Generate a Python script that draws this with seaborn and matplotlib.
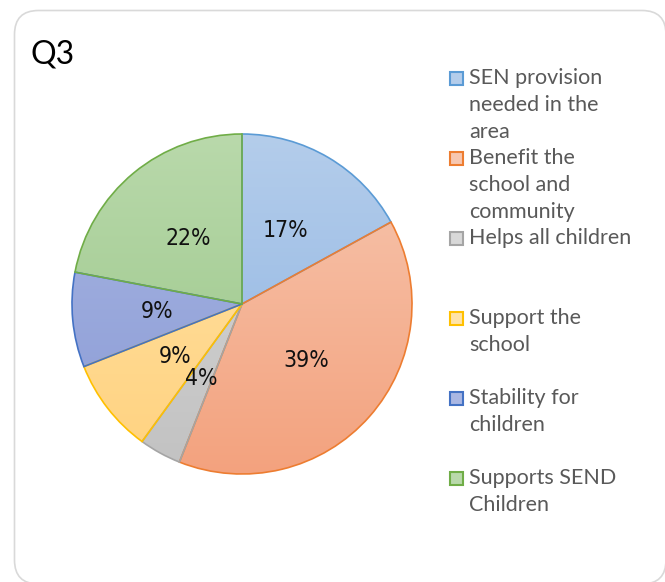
import numpy as np
import matplotlib
matplotlib.use("Agg")
import matplotlib.pyplot as plt
from matplotlib.colors import LinearSegmentedColormap
from matplotlib.patches import FancyBboxPatch, Rectangle
from matplotlib.transforms import IdentityTransform
import seaborn as sns

# ---- data ----
categories = ["SEN provision\nneeded in the\narea",
              "Benefit the\nschool and\ncommunity",
              "Helps all children",
              "Support the\nschool",
              "Stability for\nchildren",
              "Supports SEND\nChildren"]
values = [17, 39, 4, 9, 9, 22]
edge_colors = ["#5B9BD5", "#ED7D31", "#A5A5A5", "#FFC000", "#4472C4", "#70AD47"]
fill_top = ["#B4CDEB", "#F7C7B0", "#D8D8D8", "#FFE3A8", "#AAB7E3", "#B9D9AB"]
fill_bottom = ["#8DB3E2", "#F3A27E", "#C2C2C2", "#FFD27F", "#899AD5", "#98C586"]
title = "Q3"

sns.set_theme(style="white")
plt.rcParams['font.family'] = ['Lato', 'DejaVu Sans']

W, H = 665, 582
fig = plt.figure(figsize=(W / 100, H / 100), dpi=100)
fig.patch.set_facecolor("white")

# rounded border
box = FancyBboxPatch((14.5, -2), 651.5, 573.5,
                     boxstyle="round,pad=0,rounding_size=24",
                     transform=IdentityTransform(), facecolor="none",
                     edgecolor="#D9D9D9", linewidth=1.2)
fig.add_artist(box)

cx, cy, r = 242, 304, 170
ax = fig.add_axes([(cx - r) / W, (H - cy - r) / H, 2 * r / W, 2 * r / H])

wedges, texts, autotexts = ax.pie(
    values, startangle=90, counterclock=False, radius=1,
    colors=edge_colors, pctdistance=0.5,
    autopct=lambda p: f"{p:.0f}%",
    wedgeprops=dict(linewidth=1.2),
    textprops=dict(fontsize=16.5, color="#111111",
                   family=["DejaVu Sans"], fontstretch="condensed"))

grad = np.linspace(0, 1, 256).reshape(-1, 1)
for w, ec, t, b in zip(wedges, edge_colors, fill_top, fill_bottom):
    w.set_edgecolor(ec)
    w.set_facecolor("none")
    w.set_zorder(2)
    cmap = LinearSegmentedColormap.from_list("g", [b, t])
    im = ax.imshow(grad, extent=(-1, 1, -1, 1), origin="lower", cmap=cmap,
                   aspect="auto", zorder=1, interpolation="bilinear")
    im.set_clip_path(w)
for at in autotexts:
    at.set_zorder(5)

ax.set_xlim(-1, 1)
ax.set_ylim(-1, 1)
ax.set_aspect("auto")
ax.axis("off")

# title
fig.text(30 / W, 1 - 64 / H, title, fontsize=23, color="#000000",
         va="baseline", ha="left")

# legend
leg_y = [78, 158, 238, 318, 398, 478]
line_h = 27
for lab, ec, t, b, y in zip(categories, edge_colors, fill_top, fill_bottom, leg_y):
    fig.add_artist(Rectangle((449.5, H - y - 6.5), 13, 13,
                             transform=IdentityTransform(),
                             facecolor=t, edgecolor=ec, linewidth=1.5))
    for i, line in enumerate(lab.split("\n")):
        fig.text(469 / W, 1 - (y + i * line_h) / H, line, fontsize=15.5,
                 color="#595959", va="center", ha="left")

fig.savefig("out.png", dpi=100, facecolor="white")
